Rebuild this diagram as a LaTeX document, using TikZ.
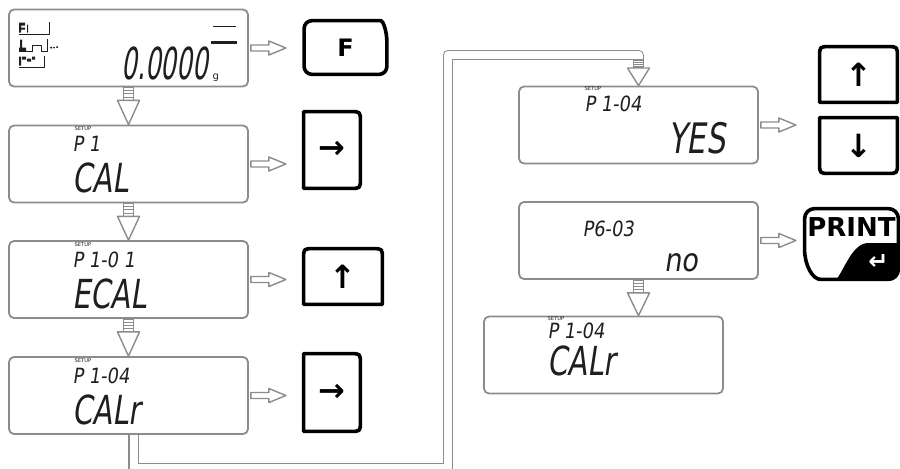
\documentclass[tikz,border=0pt]{standalone}
\usepackage{fontspec}
\setmainfont{DejaVu Sans}
\newfontfamily\lcdfont{DejaVu Sans}[FakeStretch=0.72,FakeSlant=0.15]
\newfontfamily\lcdnum{DejaVu Sans}[FakeStretch=0.56,FakeSlant=0.15]
\newfontfamily\lcdwide{DejaVu Sans}[FakeStretch=0.85,FakeSlant=0.15]
\usetikzlibrary{calc}
\definecolor{frame}{gray}{0.55}
\definecolor{ink}{gray}{0.12}
\tikzset{
  lcd/.style={draw=frame, line width=0.9pt, rounded corners=2.5pt, inner sep=0pt,
    minimum width=119.5pt, minimum height=38.5pt},
  big/.style={anchor=base west, inner sep=0pt, text=ink,
    font=\lcdfont\fontsize{20}{20}\selectfont},
  small/.style={anchor=base west, inner sep=0pt, text=ink,
    font=\lcdwide\fontsize{10.5}{10.5}\selectfont},
  setup/.style={anchor=west, inner sep=0pt, text=ink,
    font=\fontsize{2.6}{3}\selectfont},
  key/.style={line width=1.8pt, line cap=round},
  keytxt/.style={inner sep=0pt, font=\bfseries\fontsize{16}{16}\selectfont},
  hollow/.style={draw=frame, line width=0.7pt, fill=white},
  band/.style={draw=frame, line width=0.7pt, double=white, double distance=4pt}
}
\begin{document}
\begin{tikzpicture}[x=0.5pt, y=-0.5pt, line join=round]
\useasboundingbox (0,0) rectangle (900,468);
\fill[white] (0,0) rectangle (900,468);

% displays
\node[lcd] (d1) at (128.5,48) {};
\node[lcd] (d2) at (128.5,164) {};
\node[lcd] (d3) at (128.5,279.5) {};
\node[lcd] (d4) at (128.5,395.5) {};
\node[lcd] (y) at (638.5,125) {};
\node[lcd] (n) at (638.5,240.5) {};
\node[lcd] (c) at (603.5,355) {};

% weighing display
\node[big, font=\lcdnum\fontsize{22}{22}\selectfont] (w) at ($(d1.north west)+(113,71)$) {0.0000};
\node[anchor=base west, inner sep=0pt, text=ink, font=\fontsize{5}{5}\selectfont] (wu)
  at ($(w.base east)+(4,0)$) {g};
\draw[ink, line width=0.6pt] ($(d1.north west)+(205,18)$) -- +(23,0);
\draw[ink, line width=1.3pt] ($(d1.north west)+(203,34)$) -- +(26,0);
\begin{scope}[shift={(d1.north west)}, ink, line width=0.5pt]
  \fill (11,14) rectangle (13,24) (13,14) rectangle (17,17) (13,19) rectangle (17,21)
    (19,16) rectangle (20,24);
  \draw (11,26) -- (41,26) -- (41,13);
  \fill (12,31) rectangle (14,42) (11,39) rectangle (18,43);
  \draw (11,43) -- (24,43) -- (24,37) -- (33,37) -- (33,43) -- (39,43) -- (39,30);
  \fill (43,39) circle [radius=1.2] (46,39) circle [radius=1] (49,38.5) circle [radius=1.2];
  \fill (11,48) rectangle (13,57) (14,48) rectangle (18,51) (19,50) rectangle (23,53)
    (24,48) rectangle (27,51);
  \draw (11,59) -- (36,59) -- (36,47);
\end{scope}

% setup screens
\foreach \d/\p/\v in {d2/P 1/CAL, d3/P 1-0 1/ECAL, d4/P 1-04/CALr} {
  \node[setup] (\d s) at ($(\d.north west)+(66,4)$) {SETUP};
  \node[small] (\d p) at ($(\d.north west)+(64,27)$) {\p};
  \node[big] (\d v) at ($(\d.north west)+(64,68)$) {\v};
}
\node[setup] (ys) at ($(y.north west)+(66,3)$) {SETUP};
\node[small] (yp) at ($(y.north west)+(66,26)$) {P 1-04};
\node[big, font=\lcdfont\fontsize{21}{21}\selectfont] (yv) at ($(y.north west)+(150,68)$) {YES};
\node[small] (np) at ($(n.north west)+(64,35)$) {P6-03};
\node[big, font=\lcdwide\fontsize{16}{16}\selectfont] (nv) at ($(n.north west)+(146,70)$) {no};
\node[setup] (cs) at ($(c.north west)+(64,3)$) {SETUP};
\node[small] (cp) at ($(c.north west)+(64,23)$) {P 1-04};
\node[big] (cv) at ($(c.north west)+(64,60)$) {CALr};

% keys
\node[keytxt, minimum width=41pt, minimum height=26.5pt, font=\bfseries\fontsize{12}{12}\selectfont]
  (kf) at (345.5,47.5) {F};
\node[keytxt, minimum width=28pt, minimum height=38pt] (kr1) at (332,150) {→};
\node[keytxt, minimum width=39pt, minimum height=27.5pt] (ku1) at (343,276.5) {↑};
\node[keytxt, minimum width=28pt, minimum height=38.5pt] (kr2) at (332,392.5) {→};
\node[keytxt, minimum width=38.5pt, minimum height=27.5pt] (ku2) at (858.5,74.5) {↑};
\node[keytxt, minimum width=38.5pt, minimum height=27.5pt] (kd) at (858.5,145.5) {↓};
\node[inner sep=0pt, minimum width=46.5pt, minimum height=35pt] (kp) at (851.5,244) {};

\draw[key] ($(kf.north east)+(0,22)$) [rounded corners=4pt] -- (kf.south east)
  -- (kf.south west) -- (kf.north west) -- ($(kf.north east)+(-14,0)$) [sharp corners]
  .. controls ($(kf.north east)+(-4,0)$) and ($(kf.north east)+(0,10)$) .. ($(kf.north east)+(0,22)$);
\foreach \k in {kr1,kr2}
  \draw[key] (\k.north west) -- ($(\k.north east)+(-10,0)$) .. controls (\k.north east) .. ($(\k.north east)+(0,10)$)
    -- ($(\k.south east)+(0,-10)$) .. controls (\k.south east) .. ($(\k.south east)+(-10,0)$)
    -- (\k.south west) -- cycle;
\foreach \k in {ku1,ku2}
  \draw[key] (\k.south west) -- ($(\k.north west)+(0,10)$) .. controls (\k.north west) .. ($(\k.north west)+(10,0)$)
    -- ($(\k.north east)+(-10,0)$) .. controls (\k.north east) .. ($(\k.north east)+(0,10)$)
    -- (\k.south east) -- cycle;
\draw[key] (kd.north west) -- (kd.north east) -- ($(kd.south east)+(0,-10)$) .. controls (kd.south east) .. ($(kd.south east)+(-10,0)$)
  -- ($(kd.south west)+(10,0)$) .. controls (kd.south west) .. ($(kd.south west)+(0,-10)$) -- cycle;

% print key
\begin{scope}
  \clip[rounded corners=5pt] (kp.north west) rectangle (kp.south east);
  \fill ($(kp.east)+(0,-1)$) -- ($(kp.east)+(-30,-1)$)
    .. controls ($(kp.east)+(-46,-1)$) and ($(kp.south east)+(-54,-10)$) .. ($(kp.south east)+(-62,0)$)
    -- (kp.south east) -- cycle;
\end{scope}
\draw[key] ($(kp.south west)+(0,-30)$) [rounded corners=5pt] -- (kp.north west) -- (kp.north east)
  -- (kp.south east) -- ($(kp.south west)+(26,0)$) [sharp corners]
  .. controls ($(kp.south west)+(8,0)$) and ($(kp.south west)+(0,-14)$) .. ($(kp.south west)+(0,-30)$);
\node[inner sep=0pt, font=\bfseries\fontsize{13}{13}\selectfont] (kpt) at ($(kp.north)+(0,18)$) {PRINT};
\node[inner sep=0pt, text=white, font=\bfseries\fontsize{12}{12}\selectfont] (kpe)
  at ($(kp.south east)+(-20,-17)$) {↵};

% hollow arrows to the keys
\foreach \a in {d1,d2,d3,d4,y,n}
  \draw[hollow] ($(\a.east)+(2,-3)$) -- ++(18,0) -- ++(0,-4) -- ++(17,7) -- ++(-17,7)
    -- ++(0,-4) -- ++(-18,0) -- cycle;

% band from CALr up to YES
\node[inner sep=0pt, minimum size=0pt] (t) at ($(y.north)+(0,-26)$) {};
\draw[band] ($(d4.south)+(5,0)$) -- ++(0,33) -| (448,55) -| (t.center);

% down arrows
\foreach \a/\b/\s in {d1/d2/13, d2/d3/13, d3/d4/13, n/c/13, t/y/8} {
  \draw[hollow] ($(\a.south)+(-5,0)$) rectangle ($(\a.south)+(5,\s)$);
  \foreach \h in {0.25,0.5,0.75}
    \draw[frame, line width=0.5pt] ($(\a.south)+(-5,\h*\s)$) -- +(10,0);
  \draw[hollow] ($(\a.south)+(-11,\s)$) -- ($(\a.south)+(11,\s)$) -- (\a.south |- \b.north) -- cycle;
}
\end{tikzpicture}
\end{document}
